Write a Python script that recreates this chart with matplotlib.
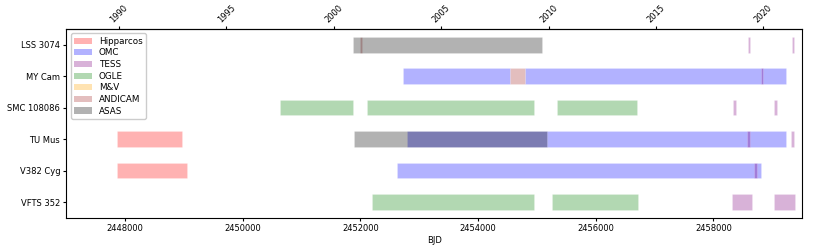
import matplotlib.pyplot as plt
import numpy as np

# Stars (top to bottom)
stars = ['LSS 3074', 'MY Cam', 'SMC 108086', 'TU Mus', 'V382 Cyg', 'VFTS 352']

# Instruments and colours (legend order)
instruments = ['Hipparcos', 'OMC', 'TESS', 'OGLE', 'M&V', 'ANDICAM', 'ASAS']
colors = ['red', 'blue', 'purple', 'green', 'orange', 'brown', 'black']

# Observing windows: (star index, start BJD, end BJD)
hipparcos = [(3, 2447864, 2448959), (4, 2447859, 2449049)]
omc = [(1, 2452728, 2454537), (1, 2454798, 2459236),
       (3, 2452791, 2459236), (4, 2452621, 2458806)]
tess = [(0, 2458595, 2458628), (0, 2459337, 2459375),
        (1, 2458815, 2458845),
        (2, 2458330, 2458381), (2, 2459032, 2459088),
        (3, 2458573, 2458624), (3, 2459316, 2459361),
        (4, 2458687, 2458743),
        (5, 2458323, 2458658), (5, 2459037, 2459389)]
ogle = [(2, 2450626, 2451878), (2, 2452105, 2454956), (2, 2455347, 2456697),
        (5, 2452190, 2454951), (5, 2455262, 2456719)]
mv = []
andicam = [(0, 2452000, 2452030), (1, 2454537, 2454798)]
asas = [(0, 2451877, 2455092), (3, 2451890, 2455167)]

windows = [hipparcos, omc, tess, ogle, mv, andicam, asas]

plt.rcParams['font.size'] = 6
fig = plt.figure(figsize=(8.31, 2.45), dpi=100)
ax = fig.add_axes([0.080, 0.111, 0.885, 0.771])

for name, col, win in zip(instruments, colors, windows):
    for row, start, end in win:
        ax.barh(row, end - start, left=start, height=0.5, color=col, alpha=0.3,
                edgecolor='white', linewidth=0.4)
    ax.barh(0, 0, left=2448000, height=0.5, color=col, alpha=0.3, label=name)

ax.set_yticks(np.arange(len(stars)))
ax.set_yticklabels(stars)
ax.set_ylim(len(stars) - 0.5, -0.5)
ax.set_xlim(2447003, 2459503)
ax.set_xticks([2448000, 2450000, 2452000, 2454000, 2456000, 2458000])
ax.set_xticklabels(['2448000', '2450000', '2452000', '2454000', '2456000', '2458000'])
ax.set_xlabel('BJD', labelpad=2)
ax.tick_params(labelsize=6, length=2.5, pad=2)


def jd2year(jd):
    return 2000 + (jd - 2451545.0) / 365.25


def year2jd(y):
    return 2451545.0 + (y - 2000) * 365.25


sec = ax.secondary_xaxis('top', functions=(jd2year, year2jd))
sec.set_xticks([1990, 1995, 2000, 2005, 2010, 2015, 2020])
sec.tick_params(labelsize=6, length=2.5, pad=1)
for lab in sec.get_xticklabels():
    lab.set_rotation(45)

ax.legend(loc='upper left', fontsize=6.3, handlelength=2.0, labelspacing=0.3,
          borderpad=0.4, framealpha=1)

fig.savefig('out.png', dpi=100)
